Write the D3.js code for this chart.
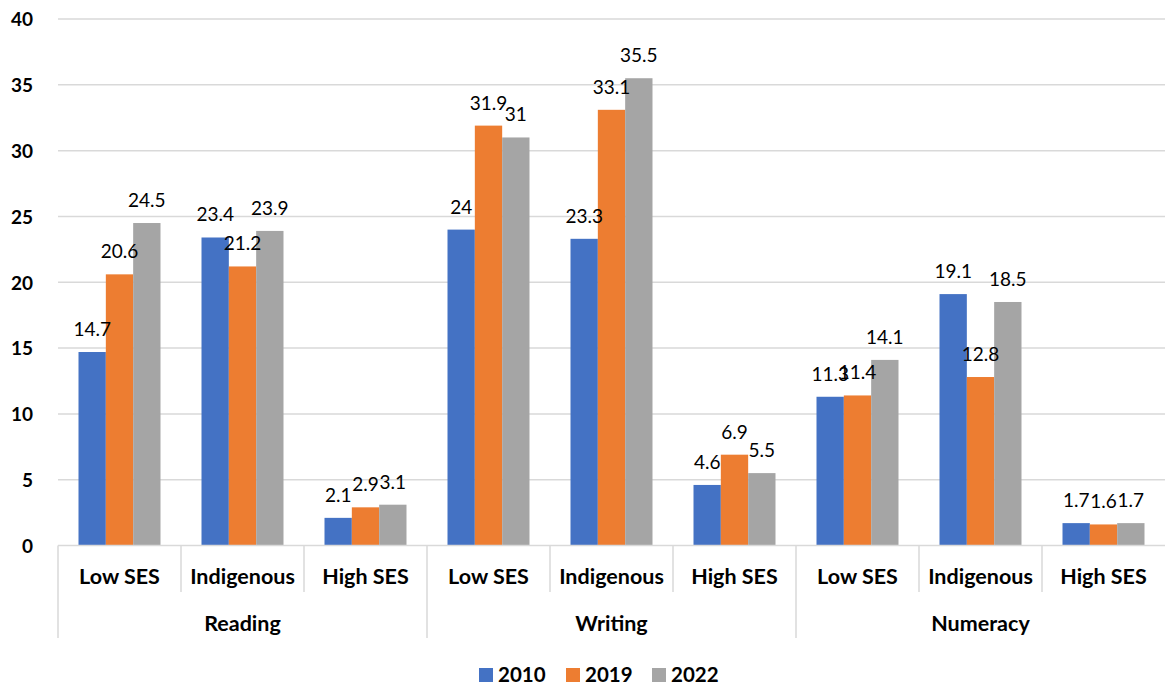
<!DOCTYPE html>
<html>
<head>
<meta charset="utf-8">
<script src="https://cdn.jsdelivr.net/npm/d3@7"></script>
<style>
  html, body { margin: 0; padding: 0; background: #fff; }
  svg { display: block; }
</style>
</head>
<body>
<svg id="chart" width="1165" height="686"></svg>
<script>
const subjects = ["Reading", "Writing", "Numeracy"];
const groups = ["Low SES", "Indigenous", "High SES"];
const years = ["2010", "2019", "2022"];
const colors = ["#4472c4", "#ed7d31", "#a5a5a5"];
const values2010 = [14.7, 23.4, 2.1, 24, 23.3, 4.6, 11.3, 19.1, 1.7];
const values2019 = [20.6, 21.2, 2.9, 31.9, 33.1, 6.9, 11.4, 12.8, 1.6];
const values2022 = [24.5, 23.9, 3.1, 31, 35.5, 5.5, 14.1, 18.5, 1.7];
const yTicks = [0, 5, 10, 15, 20, 25, 30, 35, 40];

const series = [values2010, values2019, values2022];
const cats = [];
subjects.forEach(s => groups.forEach(g => cats.push(s + "|" + g)));

const svg = d3.select("#chart");
const fontFam = "Lato, 'Open Sans', sans-serif";
const plotLeft = 58, plotRight = 1165, plotTop = 19, plotBottom = 545.5;

const x = d3.scaleBand().domain(cats).range([plotLeft, plotRight]).paddingInner(0).paddingOuter(0);
const xs = d3.scaleBand().domain(years).range([0, x.bandwidth()]).paddingInner(0).paddingOuter(0.75);
const y = d3.scaleLinear().domain([0, 40]).range([plotBottom, plotTop]);

// gridlines
svg.append("g").selectAll("line").data(yTicks.filter(t => t > 0)).join("line")
  .attr("x1", plotLeft).attr("x2", plotRight)
  .attr("y1", d => y(d)).attr("y2", d => y(d))
  .attr("stroke", "#d9d9d9").attr("stroke-width", 1.5);

// y axis labels
const yAxis = d3.axisLeft(y).tickValues(yTicks).tickSize(0).tickPadding(0).tickFormat(d3.format("d"));
const yg = svg.append("g").attr("transform", `translate(33,0)`).call(yAxis);
yg.select(".domain").remove();
yg.selectAll("text").attr("font-family", fontFam).attr("font-weight", "bold")
  .attr("font-size", 19).attr("fill", "#000").attr("dy", "0.36em");

// bars
const barData = [];
cats.forEach((c, i) => years.forEach((yr, j) => barData.push({c, yr, j, v: series[j][i]})));
svg.append("g").selectAll("rect").data(barData).join("rect")
  .attr("x", d => x(d.c) + xs(d.yr))
  .attr("width", xs.bandwidth())
  .attr("y", d => y(d.v))
  .attr("height", d => y(0) - y(d.v))
  .attr("fill", d => colors[d.j]);

// value labels
svg.append("g").selectAll("text").data(barData).join("text")
  .attr("x", d => x(d.c) + xs(d.yr) + xs.bandwidth() / 2)
  .attr("y", d => y(d.v) - 16)
  .attr("text-anchor", "middle")
  .attr("font-family", fontFam).attr("font-size", 19).attr("fill", "#000")
  .text(d => d.v);

// x axis line
svg.append("line").attr("x1", plotLeft).attr("x2", plotRight)
  .attr("y1", plotBottom).attr("y2", plotBottom)
  .attr("stroke", "#d9d9d9").attr("stroke-width", 1.5);

// category separators
const sepInner = cats.map((c, i) => i).filter(i => i % 3 !== 0);
svg.append("g").selectAll("line").data(sepInner).join("line")
  .attr("x1", i => x(cats[i])).attr("x2", i => x(cats[i]))
  .attr("y1", plotBottom).attr("y2", 592)
  .attr("stroke", "#d9d9d9").attr("stroke-width", 1.5);
const sepOuter = [0, 3, 6];
svg.append("g").selectAll("line").data(sepOuter).join("line")
  .attr("x1", i => x(cats[i])).attr("x2", i => x(cats[i]))
  .attr("y1", plotBottom).attr("y2", 638)
  .attr("stroke", "#d9d9d9").attr("stroke-width", 1.5);

// category labels
svg.append("g").selectAll("text").data(cats).join("text")
  .attr("x", c => x(c) + x.bandwidth() / 2)
  .attr("y", 584)
  .attr("text-anchor", "middle")
  .attr("font-family", fontFam).attr("font-weight", "bold").attr("font-size", 21.5).attr("fill", "#000")
  .text(c => c.split("|")[1]);

// subject labels
svg.append("g").selectAll("text").data(subjects).join("text")
  .attr("x", (s, i) => (x(cats[i * 3]) + x(cats[i * 3 + 2]) + x.bandwidth()) / 2)
  .attr("y", 631)
  .attr("text-anchor", "middle")
  .attr("font-family", fontFam).attr("font-weight", "bold").attr("font-size", 21.5).attr("fill", "#000")
  .text(s => s);

// legend
const legendX = [479, 566, 652];
const lg = svg.append("g").selectAll("g").data(years).join("g")
  .attr("transform", (d, i) => `translate(${legendX[i]},668)`);
lg.append("rect").attr("width", 14).attr("height", 14).attr("fill", (d, i) => colors[i]);
lg.append("text").attr("x", 19).attr("y", 14)
  .attr("font-family", fontFam).attr("font-weight", "bold").attr("font-size", 20.5).attr("fill", "#000")
  .text(d => d);
</script>
</body>
</html>
